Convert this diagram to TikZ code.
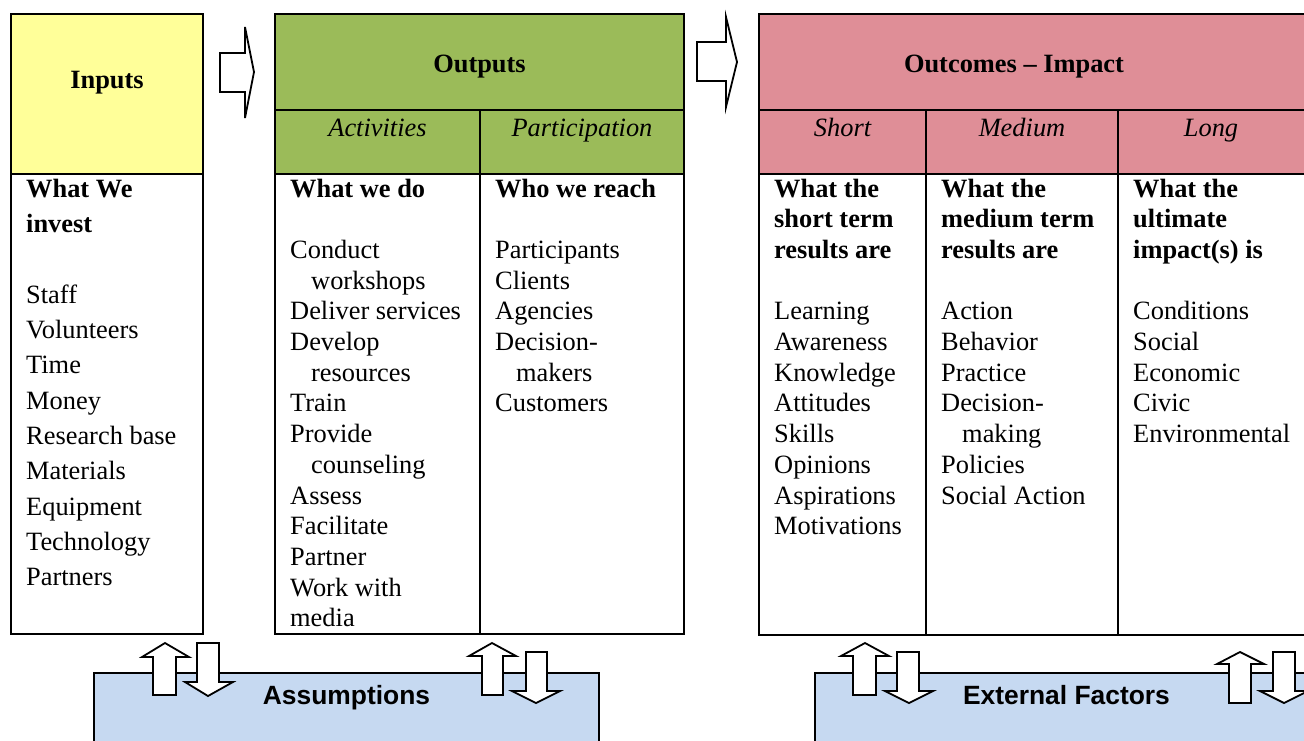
\documentclass[tikz,border=0pt]{standalone}
\usepackage{fontspec}
\setmainfont{Liberation Serif}
\setsansfont{Liberation Sans}
\definecolor{inyellow}{HTML}{FFFF99}
\definecolor{outgreen}{HTML}{9BBB59}
\definecolor{impink}{HTML}{DF8E97}
\definecolor{asblue}{HTML}{C6D9F1}
\newcommand\textcol[5]{\foreach \t [count=\i] in {#5} {\node[txt] (#1\i) at (#2,{#3+(\i-1)*#4}) {\t};}}
\begin{document}
\begin{tikzpicture}[x=1pt,y=-1pt,
  txt/.style={anchor=base west,inner sep=0pt,font=\fontsize{26.4}{30}\selectfont},
  hdr/.style={anchor=base,inner sep=0pt,font=\fontsize{26.4}{30}\selectfont},
  lbl/.style={anchor=base,inner sep=0pt,font=\sffamily\bfseries\fontsize{26.4}{30}\selectfont},
  tline/.style={line width=2pt},
  blockarrow/.style={draw=black,fill=white,line width=1.8pt,line join=miter},
  boxfill/.style={draw=black,fill=asblue,line width=2pt}]
\useasboundingbox (0,0) rectangle (1304,740);
% bottom boxes
\draw[boxfill] (94,746) -- (94,673) -- (599,673) -- (599,746);
\draw[boxfill] (815,746) -- (815,673) -- (1320,673) -- (1320,746);
\node[lbl] (assum) at (346.5,704) {Assumptions};
\node[lbl] (extf) at (1066.5,704) {External Factors};
% header fills
\fill[inyellow] (11,14) rectangle (203,174);
\fill[outgreen] (275,14) rectangle (684,174);
\fill[impink] (759,14) rectangle (1306,174);
% table lines
\draw[tline] (11,14) rectangle (203,634);
\draw[tline] (11,174) -- (203,174);
\draw[tline] (275,14) rectangle (684,634);
\draw[tline] (275,110) -- (684,110);
\draw[tline] (275,174) -- (684,174);
\draw[tline] (480,110) -- (480,634);
\draw[tline] (1310,14) -- (759,14) -- (759,635) -- (1310,635);
\draw[tline] (759,110) -- (1310,110);
\draw[tline] (759,174) -- (1310,174);
\draw[tline] (926,110) -- (926,635);
\draw[tline] (1118,110) -- (1118,635);
% headers
\node[hdr] (hin) at (107,88) {\bfseries Inputs};
\node[hdr] (hout) at (479.5,72) {\bfseries Outputs};
\node[hdr] (hact) at (377.5,136) {\itshape Activities};
\node[hdr] (hpar) at (582,136) {\itshape Participation};
\node[hdr] (hoc) at (1014,72) {\bfseries Outcomes -- Impact};
\node[hdr] (hsh) at (842.5,136) {\itshape Short};
\node[hdr] (hme) at (1022,136) {\itshape Medium};
\node[hdr] (hlo) at (1211,136) {\itshape Long};
% right arrows
\draw[blockarrow] (220,53) -- (245,53) -- (245,27) -- (254,72) -- (245,118) -- (245,92) -- (220,92) -- cycle;
\draw[blockarrow] (697,42) -- (726,42) -- (726,17) -- (737,62) -- (726,107) -- (726,81) -- (697,81) -- cycle;
% up/down arrows
\draw[blockarrow] (153,695) -- (153,657) -- (142,657) -- (165,643) -- (189,657) -- (176,657) -- (176,695) -- cycle;
\draw[blockarrow] (197,643) -- (219,643) -- (219,682) -- (233,682) -- (208,696) -- (185,682) -- (197,682) -- cycle;
\draw[blockarrow] (482,695) -- (482,656) -- (469,656) -- (492,643) -- (516,656) -- (503,656) -- (503,695) -- cycle;
\draw[blockarrow] (526,652) -- (547,652) -- (547,691) -- (560,691) -- (536,703) -- (512,691) -- (526,691) -- cycle;
\draw[blockarrow] (853,695) -- (853,656) -- (841,656) -- (865,643) -- (889,656) -- (876,656) -- (876,695) -- cycle;
\draw[blockarrow] (897,652) -- (919,652) -- (919,691) -- (933,691) -- (909,703) -- (885,691) -- (897,691) -- cycle;
\draw[blockarrow] (1229,703) -- (1229,664) -- (1217,664) -- (1240,652) -- (1264,664) -- (1251,664) -- (1251,703) -- cycle;
\draw[blockarrow] (1273,652) -- (1295,652) -- (1295,691) -- (1308,691) -- (1284,703) -- (1260,691) -- (1273,691) -- cycle;
% column texts
\textcol{inp}{26}{197}{35.35}{\bfseries What We,\bfseries invest,,Staff,Volunteers,Time,Money,Research base,Materials,Equipment,Technology,Partners}
\textcol{act}{290}{197}{30.7}{\bfseries What we do,,Conduct,\hspace*{21pt}workshops,Deliver services,Develop,\hspace*{21pt}resources,Train,Provide,\hspace*{21pt}counseling,Assess,Facilitate,Partner,Work with,media}
\textcol{par}{495}{197}{30.7}{\bfseries Who we reach,,Participants,Clients,Agencies,Decision-,\hspace*{21pt}makers,Customers}
\textcol{sho}{774}{197}{30.7}{\bfseries What the,\bfseries short term,\bfseries results are,,Learning,Awareness,Knowledge,Attitudes,Skills,Opinions,Aspirations,Motivations}
\textcol{med}{941}{197}{30.7}{\bfseries What the,\bfseries medium term,\bfseries results are,,Action,Behavior,Practice,Decision-,\hspace*{21pt}making,Policies,Social Action}
\textcol{lon}{1133}{197}{30.7}{\bfseries What the,\bfseries ultimate,\bfseries impact(s) is,,Conditions,Social,Economic,Civic,Environmental}
\end{tikzpicture}
\end{document}
